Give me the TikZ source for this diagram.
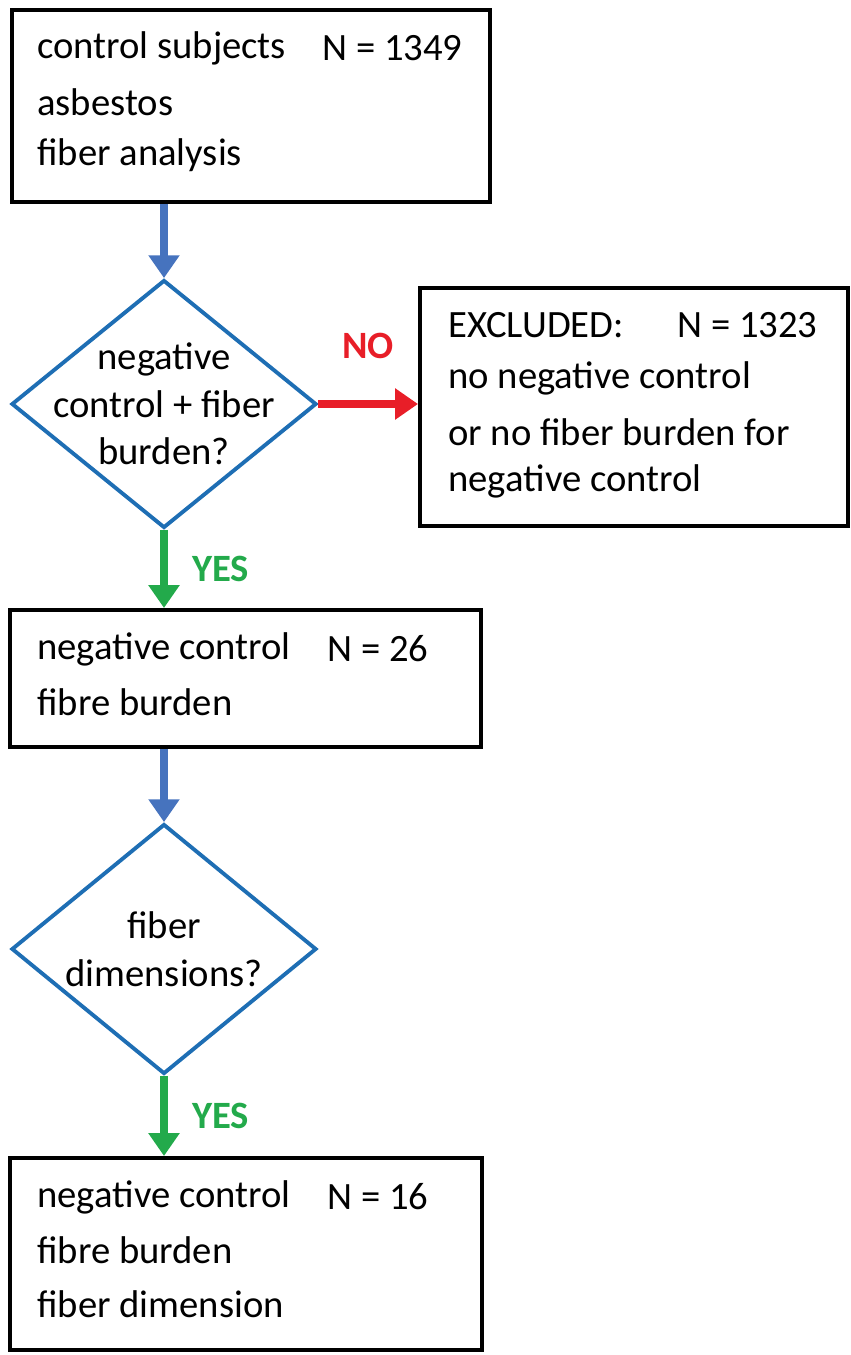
\documentclass[tikz,border=0pt]{standalone}
\usepackage{fontspec}
\setmainfont{Carlito}
\usetikzlibrary{shapes.geometric,arrows.meta,positioning}
\definecolor{boxblue}{RGB}{30,110,180}
\definecolor{arrblue}{RGB}{70,115,190}
\definecolor{arrred}{RGB}{232,30,40}
\definecolor{arrgreen}{RGB}{35,170,75}
\tikzset{
  box/.style={rectangle, draw, line width=2.4pt, anchor=north west},
  decision/.style={diamond, draw=boxblue, line width=2.2pt, inner sep=0pt, minimum width=6.1cm},
  dtext/.style={align=center, font=\fontsize{22}{27}\selectfont, inner sep=0pt},
  txt/.style={anchor=west, font=\fontsize{22}{27}\selectfont, inner sep=0pt},
  flow/.style={-{Triangle[length=13pt,width=17pt]}, line width=4pt},
  lbl/.style={font=\fontsize{22}{27}\selectfont\bfseries, inner sep=0pt}
}
\begin{document}
\begin{tikzpicture}[x=0.02cm, y=-0.02cm]
    \useasboundingbox (0,0) rectangle (851,1355);
    % Start box
    \node[box, minimum width=9.56cm, minimum height=3.84cm] (start) at (10,8) {};
    \node[txt] (s1) at (37,48) {control subjects};
    \node[txt] (s2) at (322,48) {N = 1349};
    \node[txt] (s3) at (37,102) {asbestos};
    \node[txt] (s4) at (37,155) {fiber analysis};

    % First decision
    \node[decision, minimum height=4.96cm] (dec1) at (164,404) {};
    \node[dtext] (dec1t) at (dec1.center) {negative\\control + fiber\\burden?};

    % Excluded
    \node[box, minimum width=8.56cm, minimum height=4.76cm] (excl) at (418,286) {};
    \node[txt] (e1) at (448,325) {EXCLUDED:};
    \node[txt] (e2) at (677,325) {N = 1323};
    \node[txt] (e3) at (448,378) {no negative control};
    \node[txt] (e4) at (448,432) {or no fiber burden for};
    \node[txt] (e5) at (448,481) {negative control};

    % Second box
    \node[box, minimum width=9.42cm, minimum height=2.74cm] (neg) at (8,608) {};
    \node[txt] (n1) at (37,649) {negative control};
    \node[txt] (n2) at (327,649) {N = 26};
    \node[txt] (n3) at (37,702) {fibre burden};

    % Second decision
    \node[decision, minimum height=5cm] (dec2) at (164,949) {};
    \node[dtext] (dec2t) at (dec2.center) {fiber\\dimensions?};

    % Final box
    \node[box, minimum width=9.44cm, minimum height=3.84cm] (final) at (8,1156) {};
    \node[txt] (f1) at (37,1197) {negative control};
    \node[txt] (f2) at (327,1197) {N = 16};
    \node[txt] (f3) at (37,1250) {fibre burden};
    \node[txt] (f4) at (37,1304) {fiber dimension};

    % Arrows
    \draw[flow, arrblue] (start.south -| dec1) -- (dec1.north);
    \draw[flow, arrred] (dec1.east) -- node[lbl, arrred, above=24pt] {NO} (excl.west |- dec1);
    \draw[flow, arrgreen] (dec1.south) -- node[lbl, arrgreen, right=14pt] {YES} (neg.north -| dec1);
    \draw[flow, arrblue] (neg.south -| dec2) -- (dec2.north);
    \draw[flow, arrgreen] (dec2.south) -- node[lbl, arrgreen, right=14pt] {YES} (final.north -| dec2);
\end{tikzpicture}
\end{document}
